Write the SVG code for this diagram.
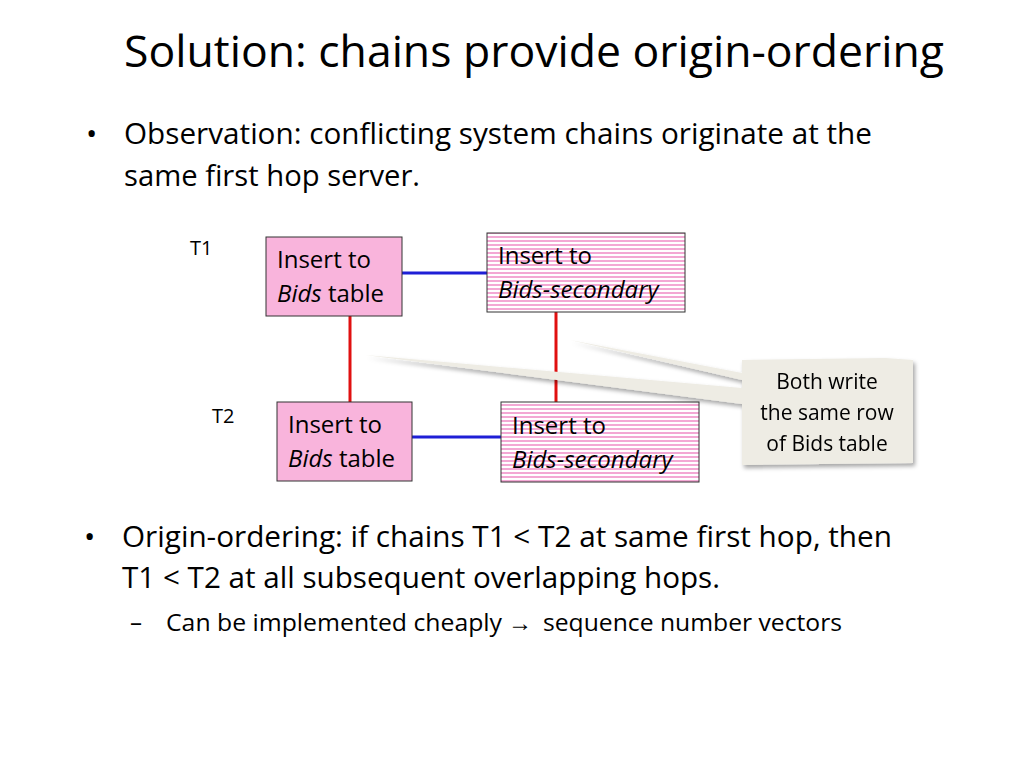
<svg xmlns="http://www.w3.org/2000/svg" width="1024" height="768" viewBox="0 0 1024 768">
<style>
text{font-family:"Open Sans","Liberation Sans",sans-serif;fill:#000}
.t{font-size:24px}
.box{stroke:#333;stroke-width:1}
.sol{fill:#f9b4dc}
</style>
<defs>
<pattern id="st" width="6" height="4" patternUnits="userSpaceOnUse">
<rect width="6" height="4" fill="#fff"/><rect width="6" height="2" fill="#f3a8d4"/>
</pattern>
<filter id="sh"><feDropShadow dx="2" dy="3" stdDeviation="2" flood-opacity="0.35"/></filter>
</defs>
<rect width="1024" height="768" fill="#fff"/>
<text x="124" y="67" font-size="44" textLength="820" lengthAdjust="spacingAndGlyphs">Solution: chains provide origin-ordering</text>
<text x="86" y="144" font-size="30">•</text>
<text x="124" y="144" font-size="30" textLength="748" lengthAdjust="spacingAndGlyphs">Observation: conflicting system chains originate at the</text>
<text x="124" y="186" font-size="30" textLength="296" lengthAdjust="spacingAndGlyphs">same first hop server.</text>
<text x="190" y="255" font-size="20">T1</text>
<text x="212" y="423" font-size="20">T2</text>
<g id="connectors">
<line x1="402" y1="273" x2="488" y2="273" stroke="#1f1fd6" stroke-width="3"/>
<line x1="412" y1="437" x2="502" y2="437" stroke="#1f1fd6" stroke-width="3"/>
<line x1="350" y1="316" x2="350" y2="402" stroke="#e01010" stroke-width="3"/>
<line x1="556" y1="312" x2="556" y2="402" stroke="#e01010" stroke-width="3"/>
</g>
<g id="n1"><rect class="box sol" x="266" y="237" width="136" height="79"/>
<text x="277" y="268" class="t">Insert to</text><text x="277" y="302" class="t"><tspan font-style="italic">Bids</tspan> table</text></g>
<g id="n2"><rect class="box" fill="url(#st)" x="487" y="233" width="198" height="79"/>
<text x="498" y="264" class="t">Insert to</text><text x="498" y="298" class="t" font-style="italic">Bids-secondary</text></g>
<g id="n3"><rect class="box sol" x="277" y="402" width="135" height="79"/>
<text x="288" y="433" class="t">Insert to</text><text x="288" y="467" class="t"><tspan font-style="italic">Bids</tspan> table</text></g>
<g id="n4"><rect class="box" fill="url(#st)" x="501" y="402" width="198" height="80"/>
<text x="512" y="434" class="t">Insert to</text><text x="512" y="468" class="t" font-style="italic">Bids-secondary</text></g>
<g id="callout" filter="url(#sh)">
<path d="M742,360 L885,358 L913,360 L913,463 L742,465 L742,404 L365,355 L742,388 L742,380 L570,340 L742,373 Z" fill="#eeece4"/>
<text font-size="21" text-anchor="middle"><tspan x="827" y="389">Both write</tspan><tspan x="827" y="420">the same row</tspan><tspan x="827" y="451">of Bids table</tspan></text>
</g>
<text x="84" y="547" font-size="30">•</text>
<text x="122" y="547" font-size="30" textLength="770" lengthAdjust="spacingAndGlyphs">Origin-ordering: if chains T1 &lt; T2 at same first hop, then</text>
<text x="122" y="588" font-size="30" textLength="598" lengthAdjust="spacingAndGlyphs">T1 &lt; T2 at all subsequent overlapping hops.</text>
<text x="130" y="631" font-size="24">–</text>
<text x="166" y="631" font-size="24" textLength="336" lengthAdjust="spacingAndGlyphs">Can be implemented cheaply</text>
<text x="508" y="631" font-size="24">→</text>
<text x="543" y="631" font-size="24" textLength="299" lengthAdjust="spacingAndGlyphs">sequence number vectors</text>
</svg>
